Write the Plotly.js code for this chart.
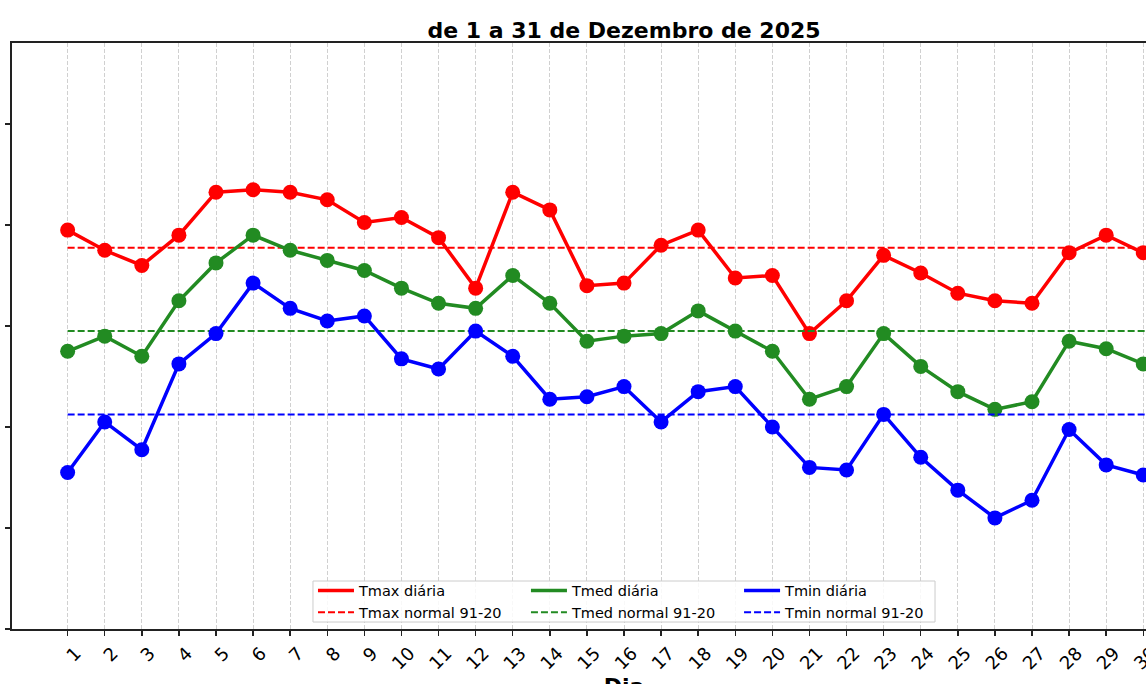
<!DOCTYPE html>
<html>
<head>
<meta charset="utf-8">
<script src="https://cdn.plot.ly/plotly-3.0.1.min.js"></script>
<style>
  html, body { margin: 0; padding: 0; overflow: hidden; background: #fff; }
  #tempChart { width: 1250px; height: 700px; }
</style>
</head>
<body>
<div id="tempChart"></div>
<script>
// Temperaturas diárias de Dezembro de 2025 (°C)
const days = [1, 2, 3, 4, 5, 6, 7, 8, 9, 10, 11, 12, 13, 14, 15, 16, 17, 18, 19, 20,
              21, 22, 23, 24, 25, 26, 27, 28, 29, 30, 31];
const dayLabels = days.map(d => String(d));

const tmaxDaily = [15.8, 15.0, 14.4, 15.6, 17.3, 17.4, 17.3, 17.0, 16.1, 16.3,
                   15.5, 13.5, 17.3, 16.6, 13.6, 13.7, 15.2, 15.8, 13.9, 14.0,
                   11.7, 13.0, 14.8, 14.1, 13.3, 13.0, 12.9, 14.9, 15.6, 14.9];
const tmedDaily = [11.0, 11.6, 10.8, 13.0, 14.5, 15.6, 15.0, 14.6, 14.2, 13.5,
                   12.9, 12.7, 14.0, 12.9, 11.4, 11.6, 11.7, 12.6, 11.8, 11.0,
                   9.1, 9.6, 11.7, 10.4, 9.4, 8.7, 9.0, 11.4, 11.1, 10.5];
const tminDaily = [6.2, 8.2, 7.1, 10.5, 11.7, 13.7, 12.7, 12.2, 12.4, 10.7,
                   10.3, 11.8, 10.8, 9.1, 9.2, 9.6, 8.2, 9.4, 9.6, 8.0,
                   6.4, 6.3, 8.5, 6.8, 5.5, 4.4, 5.1, 7.9, 6.5, 6.1];

// Normais climatológicas 1991-2020
const tmaxNormal = 15.1;
const tmedNormal = 11.8;
const tminNormal = 8.5;

const yTicks = [0, 4, 8, 12, 16, 20];

function chartDailyTrace(values, name, color) {
    return {
        x: days.slice(0, values.length),
        y: values,
        type: 'scatter',
        mode: 'lines+markers',
        name: name,
        showlegend: false,
        line: { color: color, width: 3.5 },
        marker: { color: color, size: 15 }
    };
}

// legend entry only (matplotlib shows just the line sample)
function chartLegendLine(name, color, legendId) {
    return {
        x: [null],
        y: [null],
        type: 'scatter',
        mode: 'lines',
        name: name,
        legend: legendId,
        line: { color: color, width: 3.5 }
    };
}

function chartNormalTrace(value, name, color, legendId) {
    return {
        x: days,
        y: days.map(() => value),
        type: 'scatter',
        mode: 'lines',
        name: name,
        legend: legendId,
        line: { color: color, width: 2, dash: '7px,3px' }
    };
}

const chartTraces = [
    chartDailyTrace(tmaxDaily, 'Tmax diária', '#ff0000'),
    chartLegendLine('Tmax diária', '#ff0000', 'legend'),
    chartNormalTrace(tmaxNormal, 'Tmax normal 91-20', '#ff0000', 'legend'),
    chartDailyTrace(tmedDaily, 'Tmed diária', '#228b22'),
    chartLegendLine('Tmed diária', '#228b22', 'legend2'),
    chartNormalTrace(tmedNormal, 'Tmed normal 91-20', '#228b22', 'legend2'),
    chartDailyTrace(tminDaily, 'Tmin diária', '#0000ff'),
    chartLegendLine('Tmin diária', '#0000ff', 'legend3'),
    chartNormalTrace(tminNormal, 'Tmin normal 91-20', '#0000ff', 'legend3')
];

const legendFont = { family: 'DejaVu Sans', size: 14.5, color: '#000' };

function chartLegend(xPos) {
    return {
        x: xPos, y: 0.093, xref: 'paper', yref: 'paper',
        xanchor: 'left', yanchor: 'top',
        orientation: 'v',
        bgcolor: 'rgba(0,0,0,0)',
        borderwidth: 0,
        itemwidth: 36,
        tracegroupgap: 0,
        font: legendFont
    };
}

const chartLayout = {
    width: 1250,
    height: 700,
    margin: { l: 12, r: 14, t: 43, b: 71 },
    paper_bgcolor: '#fff',
    plot_bgcolor: '#fff',
    font: { family: 'DejaVu Sans', color: '#000' },
    title: {
        text: '<b>de 1 a 31 de Dezembro de 2025</b>',
        font: { family: 'DejaVu Sans', size: 22, color: '#000' },
        x: 0.5, xref: 'paper', xanchor: 'center',
        y: 1, yref: 'paper', yanchor: 'bottom',
        pad: { b: 5 }
    },
    xaxis: {
        range: [-0.5, 32.5],
        tickmode: 'array',
        tickvals: days,
        ticktext: dayLabels,
        tickangle: -45,
        ticklabelshift: 8,
        tickfont: { family: 'DejaVu Sans', size: 18, color: '#000' },
        ticks: 'outside', ticklen: 5, tickwidth: 1.5, tickcolor: '#222',
        showline: true, linecolor: '#222', linewidth: 1.6, mirror: true,
        showgrid: true, gridcolor: '#d0d0d0', gridwidth: 1, griddash: '4px,2px',
        zeroline: false,
        title: {
            text: '<b>Dia</b>',
            font: { family: 'DejaVu Sans', size: 22, color: '#000' },
            standoff: 6
        }
    },
    yaxis: {
        range: [0, 23.21],
        tickmode: 'array',
        tickvals: yTicks,
        showticklabels: false,
        ticks: 'outside', ticklen: 5, tickwidth: 1.5, tickcolor: '#222',
        showline: true, linecolor: '#222', linewidth: 1.6, mirror: true,
        showgrid: false,
        zeroline: false
    },
    legend: chartLegend(0.2459),
    legend2: chartLegend(0.4199),
    legend3: chartLegend(0.5940),
    shapes: [{
        type: 'rect', xref: 'paper', yref: 'paper', layer: 'above',
        x0: 0.2459, x1: 0.7541, y0: 0.0119, y1: 0.0819,
        line: { color: '#cccccc', width: 1 },
        fillcolor: 'rgba(255,255,255,0.85)'
    }]
};

Plotly.newPlot('tempChart', chartTraces, chartLayout, { displayModeBar: false, staticPlot: true });
</script>
</body>
</html>
